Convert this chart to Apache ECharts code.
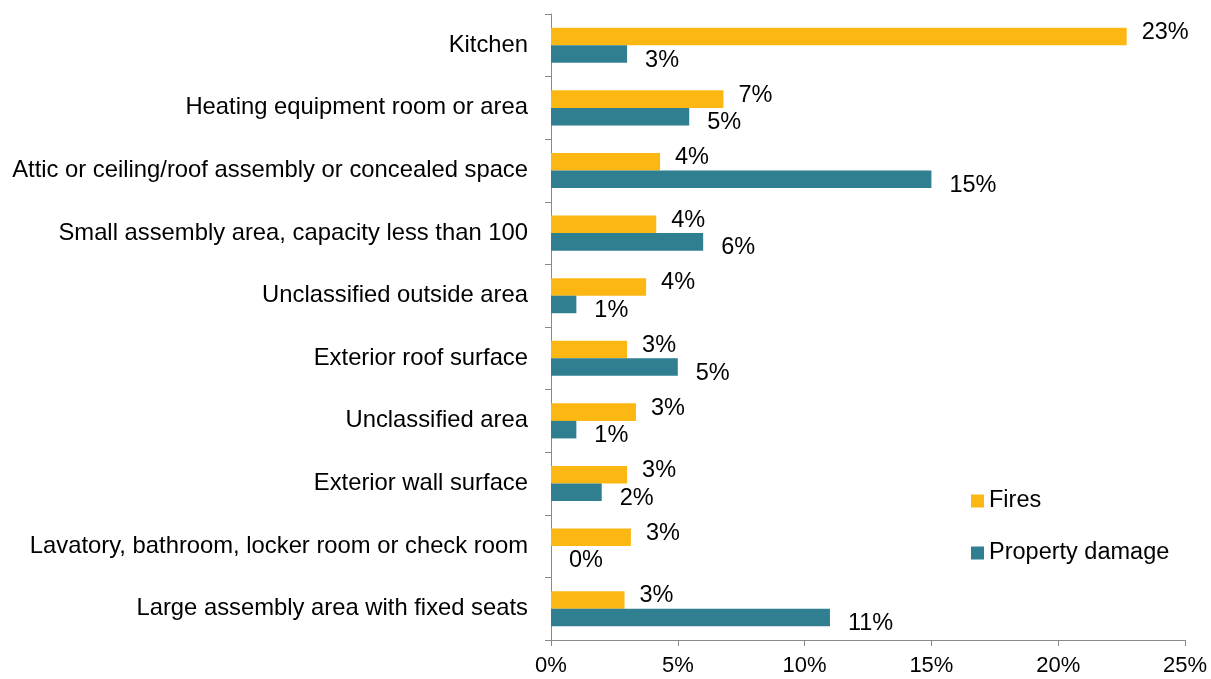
<!DOCTYPE html>
<html><head><meta charset="utf-8">
<script src="https://cdn.jsdelivr.net/npm/echarts@6/dist/echarts.min.js"></script>
<style>html,body{margin:0;padding:0;background:#fff}#c{width:1211px;height:679px}</style>
</head><body><div id="c"></div>
<script>
const categories = [
  "Kitchen",
  "Heating equipment room or area",
  "Attic or ceiling/roof assembly or concealed space",
  "Small assembly area, capacity less than 100",
  "Unclassified outside area",
  "Exterior roof surface",
  "Unclassified area",
  "Exterior wall surface",
  "Lavatory, bathroom, locker room or check room",
  "Large assembly area with fixed seats"
];
const fires = [22.7, 6.8, 4.3, 4.15, 3.75, 3.0, 3.35, 3.0, 3.15, 2.9];
const propertyDamage = [3.0, 5.45, 15.0, 6.0, 1.0, 5.0, 1.0, 2.0, 0, 11.0];
const xTicks = [0, 5, 10, 15, 20, 25];

const font = "Liberation Sans, Arial, sans-serif";
const chart = echarts.init(document.getElementById('c'));
const fmt = p => Math.round(p.value) + '%';
chart.setOption({
  animation: false,
  grid: {left: 551, right: 26, top: 14, bottom: 39, containLabel: false},
  legend: {
    orient: 'vertical', left: 966, top: 484, itemWidth: 13, itemHeight: 13, itemGap: 28,
    icon: 'rect',
    textStyle: {fontFamily: font, fontSize: 23.5, color: '#000'},
    data: ['Fires', 'Property damage']
  },
  xAxis: {
    type: 'value', min: xTicks[0], max: xTicks[xTicks.length - 1], interval: 5,
    splitLine: {show: false},
    axisLine: {show: true, lineStyle: {color: '#898989', width: 1}},
    axisTick: {show: true, length: 6, lineStyle: {color: '#898989'}},
    axisLabel: {fontFamily: font, fontSize: 22, color: '#000', margin: 15, formatter: v => v + '%'}
  },
  yAxis: {
    type: 'category', data: categories, inverse: true,
    axisLine: {show: true, lineStyle: {color: '#898989', width: 1}},
    axisTick: {show: true, length: 6, lineStyle: {color: '#898989'}},
    axisLabel: {fontFamily: font, fontSize: 23.8, color: '#000', margin: 23}
  },
  series: [
    {
      name: 'Fires', type: 'bar', data: fires, barGap: '0%', barCategoryGap: '44%',
      itemStyle: {color: '#FDB713'},
      label: {show: true, position: 'right', distance: 15, offset: [0, -4], formatter: fmt,
              fontFamily: font, fontSize: 23.5, color: '#000'}
    },
    {
      name: 'Property damage', type: 'bar', data: propertyDamage, barGap: '0%', barCategoryGap: '44%',
      itemStyle: {color: '#2F7F90'},
      label: {show: true, position: 'right', distance: 18, offset: [0, 6], formatter: fmt,
              fontFamily: font, fontSize: 23.5, color: '#000'}
    }
  ]
});
</script>
</body></html>
